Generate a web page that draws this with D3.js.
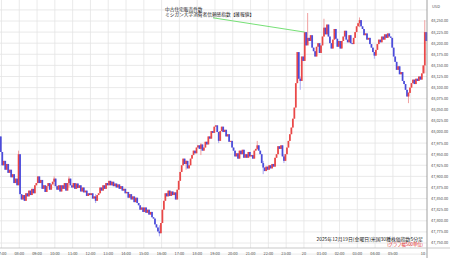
<!DOCTYPE html>
<html lang="ja">
<head>
<meta charset="UTF-8">
<title>米国30種株価指数5分足</title>
<script src="https://d3js.org/d3.v7.min.js"></script>
<style>
  body { margin: 0; background: #fff; }
  svg { display: block; font-family: "Noto Sans CJK JP", "Noto Sans", sans-serif; }
</style>
</head>
<body>
<svg id="chart" width="450" height="258"></svg>
<script>
// 5分足 終値 (2025-12-19 06:55 → 12-20 06:50), 1行 = 1時間
const closes = [
  47955,47925,47935,47915,47928,47908,47915,47898,47905,47885,47895,47880,47950,
  47860,47848,47858,47845,47862,47855,47868,47858,47872,47862,47880,47885,
  47900,47885,47892,47872,47880,47865,47878,47885,47870,47882,47888,47895,
  47878,47870,47880,47866,47880,47872,47885,47868,47885,47895,47880,47875,
  47885,47872,47884,47874,47880,47866,47875,47864,47868,47856,47862,47858,
  47862,47850,47855,47845,47858,47862,47875,47868,47880,47872,47885,47880,
  47890,47880,47888,47878,47884,47875,47882,47872,47878,47868,47872,47862,
  47865,47852,47860,47848,47855,47842,47852,47840,47835,47825,47830,47820,
  47830,47818,47825,47814,47820,47808,47805,47792,47785,47776,47772,47795,
  47825,47845,47862,47855,47868,47856,47866,47858,47864,47848,47870,47890,
  47910,47925,47940,47928,47935,47918,47925,47940,47948,47958,47952,47965,
  47970,47962,47972,47958,47965,47978,47972,47990,47985,48002,47998,48012,
  48015,48000,47980,48002,48012,48000,48005,47990,47995,47978,47980,47965,
  47958,47945,47952,47940,47958,47950,47960,47942,47950,47942,47955,47945,
  47948,47940,47958,47962,47970,47958,47950,47930,47920,47912,47922,47915,
  47925,47918,47928,47922,47942,47950,47968,47962,47970,47945,47935,47950,
  47965,47980,47995,48010,48030,48055,48110,48180,48120,48115,48170,48160,
  48225,48195,48212,48205,48218,48190,48182,48170,48192,48200,48178,48195,
  48215,48235,48220,48242,48215,48200,48188,48208,48232,48210,48192,48205,
  48188,48205,48215,48228,48208,48202,48218,48200,48198,48212,48225,48238,
  48245,48252,48238,48232,48218,48222,48208,48212,48198,48190,48180,48172,
  48185,48198,48208,48202,48215,48208,48220,48212,48222,48215,48212,48190,
  48170,48158,48140,48148,48130,48135,48115,48108,48095,48080,48088,48100,
  48110,48118,48108,48120,48115,48125,48118,48132,48150,48225,48205
];
const firstOpen = 47990;

// 目立つヒゲ [足の番号, 高値, 安値]
const wicks = [
  [12, 47958, 47880], [36, 47900, 47878], [46, 47900, 47875],
  [64, 47860, 47840], [107, 47790, 47765], [125, 47936, 47915],
  [135, 47975, 47948], [147, 48000, 47975], [173, 47980, 47960],
  [177, 47935, 47905], [191, 47950, 47930], [202, 48125, 48095],
  [207, 48268, 48200], [218, 48255, 48215], [242, 48258, 48236],
  [252, 48180, 48165], [275, 48090, 48065], [286, 48252, 48132]
];

const priceTicks = [47750,47775,47800,47825,47850,47875,47900,47925,47950,47975,
  48000,48025,48050,48075,48100,48125,48150,48175,48200,48225,48250];
const gridPrices = [47725].concat(priceTicks, [48275]);

const hourLabels = ["07:00","08:00","09:00","10:00","11:00","12:00","13:00","14:00",
  "15:00","16:00","17:00","18:00","19:00","20:00","21:00","22:00","23:00","20",
  "01:00","02:00","03:00","04:00","05:00",""];
const endLabel = "10";

const noteLines = ["中古住宅販売件数", "ミシガン大学消費者信頼感指数【確報値】"];
const noteIndex = 205;
const caption = "2025年12月19日(金曜日)米国30種株価指数5分足";
const captionRed = "(グラフ幅500単位)";

const svg = d3.select("#chart");
const plotRight = 427, axisY = 248;

const start = new Date(2025, 11, 19, 6, 55);
const end = d3.timeMinute.offset(start, closes.length * 5);
const x = d3.scaleTime().domain([start, end]).range([0, plotRight]);
const y = d3.scaleLinear().domain([47750, 48250]).range([243, 21]);

const byIdx = new Map(wicks.map(w => [w[0], w]));
const candles = closes.map((c, i) => {
  const o = i === 0 ? firstOpen : closes[i - 1];
  const w = byIdx.get(i);
  return {
    t: d3.timeMinute.offset(start, i * 5),
    o: o, c: c,
    h: w ? w[1] : Math.max(o, c),
    l: w ? w[2] : Math.min(o, c)
  };
});
const step = x(d3.timeMinute.offset(start, 5)) - x(start);

// grid
const hours = d3.timeHour.range(d3.timeHour.ceil(start), end);
svg.append("g").selectAll("line").data(hours).join("line")
  .attr("x1", d => x(d)).attr("x2", d => x(d))
  .attr("y1", 0).attr("y2", axisY)
  .attr("stroke", "#e4e4e4").attr("stroke-width", 0.8);
svg.append("g").selectAll("line").data(gridPrices).join("line")
  .attr("x1", 0).attr("x2", plotRight)
  .attr("y1", d => y(d)).attr("y2", d => y(d))
  .attr("stroke", "#e4e4e4").attr("stroke-width", 0.8);

// candles
const plot = svg.append("g");
plot.selectAll("line.wick").data(candles).join("line")
  .attr("class", "wick")
  .attr("x1", d => x(d.t) + step / 2).attr("x2", d => x(d.t) + step / 2)
  .attr("y1", d => y(d.h)).attr("y2", d => y(d.l))
  .attr("stroke", d => d.c >= d.o ? "#f0a0a0" : "#a8a8f0")
  .attr("stroke-width", 1);
plot.selectAll("rect").data(candles).join("rect")
  .attr("x", d => x(d.t) - 0.1)
  .attr("width", step * 1.2)
  .attr("y", d => y(Math.max(d.o, d.c)))
  .attr("height", d => Math.max(0.8, Math.abs(y(d.o) - y(d.c))))
  .attr("fill", d => d.c >= d.o ? "#e83535" : "#3838d6")
  .attr("fill-opacity", 0.85);

// annotation
const target = candles[noteIndex];
svg.append("line")
  .attr("x1", 213).attr("y1", 17.8)
  .attr("x2", x(target.t) + step / 2).attr("y2", y(target.h))
  .attr("stroke", "#66dd66").attr("stroke-width", 0.9);
svg.append("g").selectAll("text").data(noteLines).join("text")
  .attr("x", 165).attr("y", (d, i) => 10.5 + i * 5.9)
  .attr("font-size", 4.7).attr("fill", "#222")
  .text(d => d);

// axes
svg.append("line").attr("x1", plotRight).attr("x2", plotRight)
  .attr("y1", 0).attr("y2", 258).attr("stroke", "#888").attr("stroke-width", 0.8);
svg.append("line").attr("x1", 0).attr("x2", 450)
  .attr("y1", axisY).attr("y2", axisY).attr("stroke", "#bbb").attr("stroke-width", 0.8);

svg.append("g").selectAll("text").data(priceTicks).join("text")
  .attr("x", 431).attr("y", d => y(d) + 1.4)
  .attr("font-size", 3.9).attr("fill", "#555")
  .text(d => d3.format(",.2f")(d));
svg.append("text").attr("x", 432).attr("y", 8)
  .attr("font-size", 4).attr("fill", "#555").text("USD");

svg.append("g").selectAll("text").data(hours).join("text")
  .attr("x", d => x(d)).attr("y", 254.5)
  .attr("text-anchor", "middle")
  .attr("font-size", 3.9).attr("fill", "#555")
  .text((d, i) => hourLabels[i] || "");
svg.append("text").attr("x", 423).attr("y", 254.5)
  .attr("text-anchor", "middle").attr("font-size", 3.9).attr("fill", "#555")
  .text(endLabel);

// caption
svg.append("text").attr("x", 423).attr("y", 240.5)
  .attr("text-anchor", "end").attr("font-size", 4.9).attr("fill", "#222")
  .text(caption);
svg.append("text").attr("x", 423).attr("y", 245.6)
  .attr("text-anchor", "end").attr("font-size", 4.3).attr("fill", "#e02020")
  .text(captionRed);
</script>
</body>
</html>
